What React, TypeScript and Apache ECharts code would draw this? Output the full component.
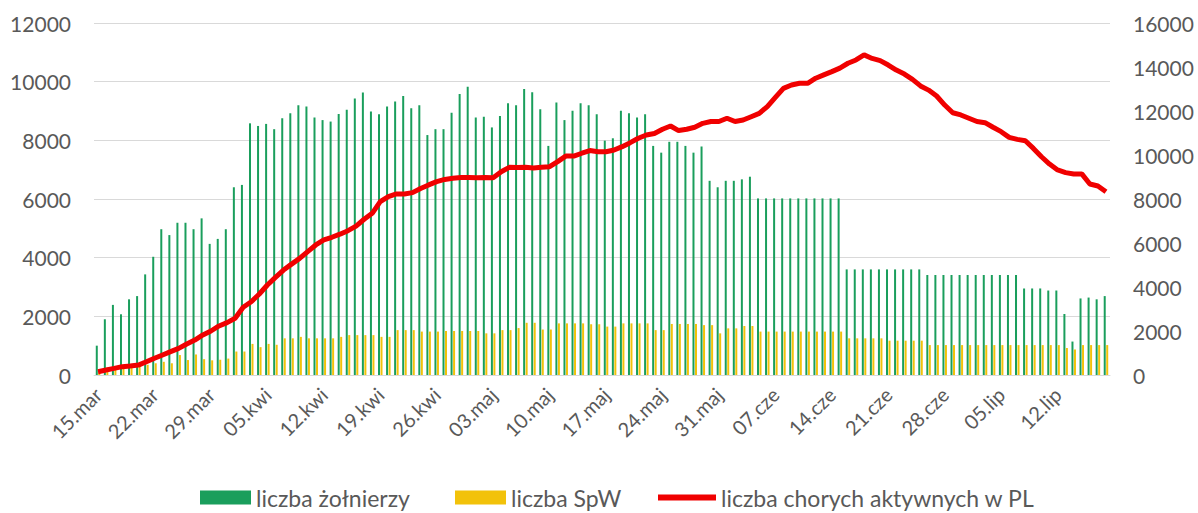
import React, { useEffect, useRef } from "react";
import * as echarts from "echarts";

const marDays = ["15.mar","16.mar","17.mar","18.mar","19.mar","20.mar","21.mar","22.mar","23.mar","24.mar","25.mar","26.mar","27.mar","28.mar","29.mar","30.mar","31.mar"];
const kwiDays = ["01.kwi","02.kwi","03.kwi","04.kwi","05.kwi","06.kwi","07.kwi","08.kwi","09.kwi","10.kwi","11.kwi","12.kwi","13.kwi","14.kwi","15.kwi","16.kwi","17.kwi","18.kwi","19.kwi","20.kwi","21.kwi","22.kwi","23.kwi","24.kwi","25.kwi","26.kwi","27.kwi","28.kwi","29.kwi","30.kwi"];
const majDays = ["01.maj","02.maj","03.maj","04.maj","05.maj","06.maj","07.maj","08.maj","09.maj","10.maj","11.maj","12.maj","13.maj","14.maj","15.maj","16.maj","17.maj","18.maj","19.maj","20.maj","21.maj","22.maj","23.maj","24.maj","25.maj","26.maj","27.maj","28.maj","29.maj","30.maj","31.maj"];
const czeDays = ["01.cze","02.cze","03.cze","04.cze","05.cze","06.cze","07.cze","08.cze","09.cze","10.cze","11.cze","12.cze","13.cze","14.cze","15.cze","16.cze","17.cze","18.cze","19.cze","20.cze","21.cze","22.cze","23.cze","24.cze","25.cze","26.cze","27.cze","28.cze","29.cze","30.cze"];
const lipDays = ["01.lip","02.lip","03.lip","04.lip","05.lip","06.lip","07.lip","08.lip","09.lip","10.lip","11.lip","12.lip","13.lip","14.lip","15.lip","16.lip","17.lip","18.lip"];
const categories = [...marDays, ...kwiDays, ...majDays, ...czeDays, ...lipDays];

const zolnierze = [
  1000,1900,2390,2070,2580,2690,3430,4030,4970,4770,
  5190,5190,4970,5340,4470,4640,4970,6400,6480,8580,
  8490,8560,8380,8750,8920,9200,9150,8780,8690,8640,
  8900,9040,9430,9630,8980,8890,9150,9320,9510,9090,
  9200,8180,8380,8380,8940,9580,9830,8780,8800,8440,
  8830,9260,9200,9750,9640,9060,7810,9290,8690,9010,
  9260,9200,8890,7990,8070,9010,8920,8780,8890,7810,
  7580,7950,7950,7810,7580,7790,6620,6400,6620,6620,
  6670,6760,6020,6020,6020,6020,6020,6020,6020,6020,
  6020,6020,6020,3600,3600,3600,3600,3600,3600,3600,
  3600,3600,3600,3410,3410,3410,3410,3410,3410,3410,
  3410,3410,3410,3410,3410,2950,2950,2950,2880,2880,
  2080,1140,2610,2640,2580,2690
];

const spw = [
  150,250,300,350,350,400,350,400,450,400,
  680,510,700,540,500,520,560,800,800,1060,
  950,1060,1030,1250,1250,1300,1250,1250,1250,1250,
  1300,1360,1360,1360,1360,1300,1300,1530,1530,1530,
  1480,1480,1480,1500,1500,1500,1500,1500,1420,1420,
  1530,1530,1600,1780,1780,1550,1550,1760,1760,1760,
  1760,1730,1730,1650,1650,1760,1760,1760,1760,1530,
  1530,1740,1740,1740,1740,1700,1700,1420,1590,1590,
  1670,1670,1480,1480,1480,1480,1480,1480,1480,1480,
  1480,1480,1480,1250,1250,1250,1250,1250,1170,1170,
  1170,1170,1170,1020,1020,1020,1020,1020,1020,1020,
  1020,1020,1020,1020,1020,1020,1020,1020,1020,1020,
  920,870,1020,1020,1020,1020
];

const chorzy = [
  150,230,300,380,410,450,600,760,910,1060,
  1210,1410,1590,1820,2000,2230,2380,2580,3080,3330,
  3680,4090,4440,4770,5040,5300,5610,5910,6140,6260,
  6400,6560,6770,7080,7350,7880,8110,8230,8230,8290,
  8480,8640,8790,8890,8940,8980,8980,8970,8980,8970,
  9240,9440,9430,9440,9410,9440,9470,9700,9950,9950,
  10080,10200,10150,10150,10230,10380,10560,10760,10910,10980,
  11170,11320,11110,11170,11260,11440,11520,11520,11670,11520,
  11590,11740,11890,12200,12620,13030,13180,13260,13260,13490,
  13640,13790,13950,14170,14320,14550,14390,14290,14090,13860,
  13680,13440,13140,12950,12680,12270,11920,11820,11670,11520,
  11470,11260,11060,10800,10710,10650,10300,9920,9590,9320,
  9200,9140,9140,8680,8590,8330
];

const leftTicks = { min: 0, max: 12000, interval: 2000 };
const rightTicks = { min: 0, max: 16000, interval: 2000 };

const seriesNames = ["liczba żołnierzy", "liczba SpW", "liczba chorych aktywnych w PL"];

const FONT = "Lato";
const GREY = "#595959";

export default function App() {
  const ref = useRef<HTMLDivElement>(null);
  useEffect(() => {
    if (!ref.current) return;
    const chart = echarts.init(ref.current, null, { renderer: "svg" });
    const legendText = { fontFamily: FONT, fontSize: 23, color: GREY };
    const plain = (v: number) => String(v);
    chart.setOption({
      animation: false,
      backgroundColor: "#ffffff",
      textStyle: { fontFamily: FONT },
      grid: { left: 94, right: 88, top: 23, bottom: 138, containLabel: false },
      legend: [
        { data: [seriesNames[0]], left: 195, top: 481, itemWidth: 51, itemHeight: 14, icon: "rect", textStyle: legendText, itemGap: 0 },
        { data: [seriesNames[1]], left: 450, top: 481, itemWidth: 51, itemHeight: 14, icon: "rect", textStyle: legendText, itemGap: 0 },
        { data: [{ name: seriesNames[2], icon: "path://M0,0 L50,0 L50,5 L0,5 Z" }], left: 653, top: 481, itemWidth: 58, itemHeight: 14, textStyle: legendText, itemGap: 0 },
      ],
      xAxis: {
        type: "category",
        data: categories,
        boundaryGap: true,
        axisLine: { show: true, lineStyle: { color: "#d9d9d9", width: 1 } },
        axisTick: { show: false },
        axisLabel: { interval: 6, rotate: 45, fontSize: 20, color: GREY, fontFamily: FONT, margin: 16 },
      },
      yAxis: [
        {
          type: "value",
          ...leftTicks,
          axisLine: { show: false },
          axisTick: { show: false },
          splitLine: { show: true, lineStyle: { color: "#d9d9d9", width: 1 } },
          axisLabel: { fontSize: 21, color: GREY, fontFamily: FONT, margin: 23, formatter: plain },
        },
        {
          type: "value",
          ...rightTicks,
          axisLine: { show: false },
          axisTick: { show: false },
          splitLine: { show: false },
          axisLabel: { fontSize: 21, color: GREY, fontFamily: FONT, margin: 23, formatter: plain },
        },
      ],
      series: [
        {
          name: seriesNames[0],
          type: "bar",
          data: zolnierze,
          barWidth: 2,
          barGap: "25%",
          itemStyle: { color: "#1a9e5c" },
        },
        {
          name: seriesNames[1],
          type: "bar",
          data: spw,
          barWidth: 2,
          barGap: "25%",
          itemStyle: { color: "#f2c20a" },
        },
        {
          name: seriesNames[2],
          type: "line",
          yAxisIndex: 1,
          data: chorzy,
          showSymbol: false,
          symbol: "none",
          z: 10,
          lineStyle: { color: "#F00000", width: 5 },
          itemStyle: { color: "#F00000" },
        },
      ],
    });
    return () => chart.dispose();
  }, []);
  return <div ref={ref} style={{ position: "fixed", left: 0, top: 0, width: 1198, height: 513 }} />;
}
